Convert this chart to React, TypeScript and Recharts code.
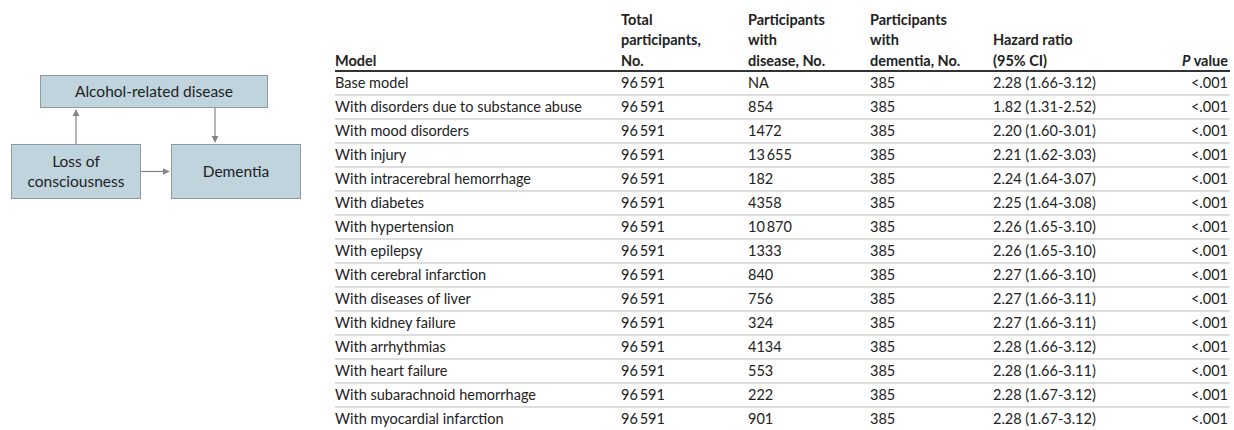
import { Bar, BarChart, XAxis, YAxis } from "recharts";

type Row = {
  model: string;
  total: string;
  disease: string;
  dementia: string;
  hr: number;
  ci: string;
  p: string;
};

const models = [
  "Base model",
  "With disorders due to substance abuse",
  "With mood disorders",
  "With injury",
  "With intracerebral hemorrhage",
  "With diabetes",
  "With hypertension",
  "With epilepsy",
  "With cerebral infarction",
  "With diseases of liver",
  "With kidney failure",
  "With arrhythmias",
  "With heart failure",
  "With subarachnoid hemorrhage",
  "With myocardial infarction",
];
const totals = Array(15).fill("96\u2009591");
const withDisease = ["NA", "854", "1472", "13\u2009655", "182", "4358", "10\u2009870", "1333", "840", "756", "324", "4134", "553", "222", "901"];
const withDementia = Array(15).fill("385");
const hazard = [2.28, 1.82, 2.2, 2.21, 2.24, 2.25, 2.26, 2.26, 2.27, 2.27, 2.27, 2.28, 2.28, 2.28, 2.28];
const ciLow = ["1.66", "1.31", "1.60", "1.62", "1.64", "1.64", "1.65", "1.65", "1.66", "1.66", "1.66", "1.66", "1.66", "1.67", "1.67"];
const ciHigh = ["3.12", "2.52", "3.01", "3.03", "3.07", "3.08", "3.10", "3.10", "3.10", "3.11", "3.11", "3.12", "3.11", "3.12", "3.12"];
const pValues = Array(15).fill("<.001");

const rows: Row[] = models.map((m, i) => ({
  model: m,
  total: totals[i],
  disease: withDisease[i],
  dementia: withDementia[i],
  hr: hazard[i],
  ci: `${hazard[i].toFixed(2)} (${ciLow[i]}-${ciHigh[i]})`,
  p: pValues[i],
}));

const W = 1234;
const H = 430;
const CH = 432; // chart is a touch taller than the page, last row sits at the very bottom
const TOP = 71;
const BOTTOM = 1;
const BAND = (CH - TOP - BOTTOM) / rows.length;
const FONT = "Lato, 'Noto Sans', sans-serif";
const TXT = "#222";
const COL = { model: 335, total: 621, disease: 748, dementia: 870, hr: 993, p: 1228 };

function RowTick(props: any) {
  const { y, index } = props;
  const r = rows[index];
  if (!r) return null;
  const ty = y + 5;
  return (
    <g fontFamily={FONT} fontSize={14.5} fill={TXT}>
      {index > 0 && (
        <line x1={COL.model} x2={1230} y1={y - BAND / 2} y2={y - BAND / 2} stroke="#d2d2d2" strokeWidth={1.5} />
      )}
      <text x={COL.model} y={ty}>{r.model}</text>
      <text x={COL.total} y={ty}>{r.total}</text>
      <text x={COL.disease} y={ty}>{r.disease}</text>
      <text x={COL.dementia} y={ty}>{r.dementia}</text>
      <text x={COL.hr} y={ty}>{r.ci}</text>
      <text x={COL.p} y={ty} textAnchor="end">{r.p}</text>
    </g>
  );
}

function Header() {
  const hs = { fontFamily: FONT, fontSize: 14.5, fontWeight: 700, fill: TXT } as const;
  const l1 = 25;
  const l2 = 45;
  const l3 = 66;
  return (
    <g {...hs}>
      <text x={COL.model} y={l3}>Model</text>
      <text x={COL.total} y={l1}>Total</text>
      <text x={COL.total} y={l2}>participants,</text>
      <text x={COL.total} y={l3}>No.</text>
      <text x={COL.disease} y={l1}>Participants</text>
      <text x={COL.disease} y={l2}>with</text>
      <text x={COL.disease} y={l3}>disease, No.</text>
      <text x={COL.dementia} y={l1}>Participants</text>
      <text x={COL.dementia} y={l2}>with</text>
      <text x={COL.dementia} y={l3}>dementia, No.</text>
      <text x={COL.hr} y={l2}>Hazard ratio</text>
      <text x={COL.hr} y={l3}>(95% CI)</text>
      <text x={COL.p} y={l3} textAnchor="end">
        <tspan fontStyle="italic">P</tspan> value
      </text>
      <line x1={COL.model} x2={1230} y1={TOP} y2={TOP} stroke="#333" strokeWidth={2} />
    </g>
  );
}

function Diagram() {
  const fill = "#bfd4dd";
  const stroke = "#8d9a9f";
  const arrow = "#858585";
  const ts = { fontFamily: FONT, fontSize: 15.5, fill: TXT, textAnchor: "middle" } as const;
  return (
    <g>
      <defs>
        <marker id="ah" viewBox="0 0 10 10" refX="9" refY="5" markerWidth="6" markerHeight="6" orient="auto">
          <path d="M0,0 L10,5 L0,10 z" fill={arrow} />
        </marker>
      </defs>
      <rect x={40.5} y={75.5} width={227} height={32} fill={fill} stroke={stroke} />
      <text {...ts} x={154} y={97}>Alcohol-related disease</text>
      <rect x={11.5} y={144.5} width={129} height={54} fill={fill} stroke={stroke} />
      <text {...ts} x={76} y={167}>Loss of</text>
      <text {...ts} x={76} y={187}>consciousness</text>
      <rect x={171.5} y={144.5} width={129} height={54} fill={fill} stroke={stroke} />
      <text {...ts} x={236} y={177}>Dementia</text>
      <line x1={76} y1={144} x2={76} y2={110} stroke={arrow} strokeWidth={1.2} markerEnd="url(#ah)" />
      <line x1={215} y1={108} x2={215} y2={142} stroke={arrow} strokeWidth={1.2} markerEnd="url(#ah)" />
      <line x1={141} y1={171.5} x2={169} y2={171.5} stroke={arrow} strokeWidth={1.2} markerEnd="url(#ah)" />
    </g>
  );
}

export default function App() {
  return (
    <div style={{ position: "absolute", left: 0, top: 0, width: W, height: H, background: "#fff", overflow: "hidden" }}>
      <svg width={W} height={H} style={{ position: "absolute", left: 0, top: 0 }}>
        <Diagram />
        <Header />
      </svg>
      <div style={{ position: "absolute", left: 0, top: 0 }}>
        <BarChart
          width={W}
          height={CH}
          data={rows}
          layout="vertical"
          margin={{ top: TOP, bottom: BOTTOM, left: 0, right: 0 }}
        >
          <XAxis type="number" hide domain={[0, 10]} />
          <YAxis
            type="category"
            dataKey="model"
            width={1}
            axisLine={false}
            tickLine={false}
            interval={0}
            tick={<RowTick />}
          />
          <Bar dataKey="hr" fill="transparent" isAnimationActive={false} />
        </BarChart>
      </div>
    </div>
  );
}
